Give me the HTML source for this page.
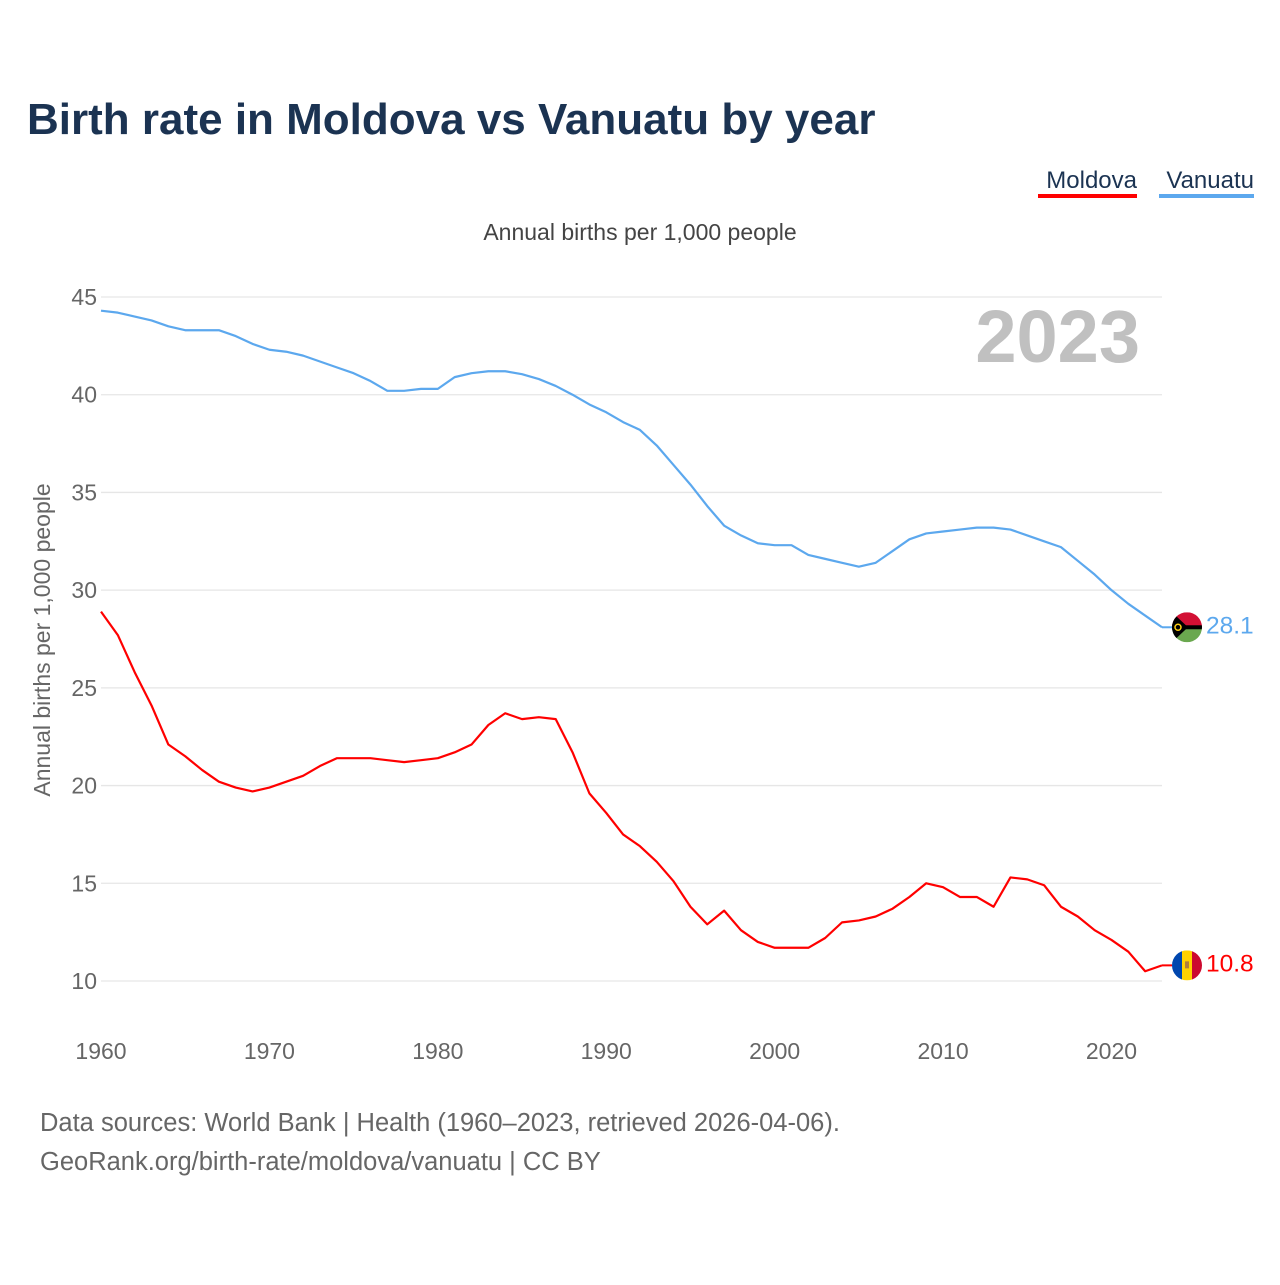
<!DOCTYPE html>
<html><head><meta charset="utf-8"><style>
body{margin:0;background:#fff;font-family:"Liberation Sans",sans-serif}
svg text{font-family:"Liberation Sans",sans-serif}
</style></head><body>
<svg width="1280" height="1280" viewBox="0 0 1280 1280" xmlns="http://www.w3.org/2000/svg" id="chart">
<defs>
<clipPath id="cv"><circle cx="1187" cy="627" r="15"/></clipPath>
<clipPath id="cm"><circle cx="1187" cy="966" r="15"/></clipPath>
</defs>
<text x="27" y="134" font-size="44" font-weight="bold" fill="#1b3352">Birth rate in Moldova vs Vanuatu by year</text>
<g>
<text x="1137" y="188" font-size="24" fill="#1b3352" text-anchor="end">Moldova</text>
<rect x="1038" y="194" width="99" height="4" fill="#ff0000"/>
<text x="1254" y="188" font-size="24" fill="#1b3352" text-anchor="end">Vanuatu</text>
<rect x="1159" y="194" width="95" height="4" fill="#5ca8ee"/>
</g>
<text x="640" y="240" font-size="23" fill="#444" text-anchor="middle">Annual births per 1,000 people</text>
<text x="50" y="640" font-size="23" fill="#666" text-anchor="middle" transform="rotate(-90 50 640)">Annual births per 1,000 people</text>
<text x="1140" y="362" font-size="74" font-weight="bold" fill="#c0c0c0" text-anchor="end">2023</text>
<g id="grid"></g><g id="xt"></g><g id="lines"></g><g id="ends"></g>
<text x="40" y="1131" font-size="25.5" fill="#666">Data sources: World Bank | Health (1960–2023, retrieved 2026-04-06).</text>
<text x="40" y="1170" font-size="25.5" fill="#666">GeoRank.org/birth-rate/moldova/vanuatu | CC BY</text>
</svg>
<script>
const years=[];for(let y=1960;y<=2023;y++)years.push(y);
const yTicks=[10,15,20,25,30,35,40,45];
const xTicks=[1960,1970,1980,1990,2000,2010,2020];
const vanuatu=[44.3,44.2,44.0,43.8,43.5,43.3,43.3,43.3,43.0,42.6,42.3,42.2,42.0,41.7,41.4,41.1,40.7,40.2,40.2,40.3,40.3,40.9,41.1,41.2,41.2,41.05,40.8,40.45,40.0,39.5,39.1,38.6,38.2,37.4,36.4,35.4,34.3,33.3,32.8,32.4,32.3,32.3,31.8,31.6,31.4,31.2,31.4,32.0,32.6,32.9,33.0,33.1,33.2,33.2,33.1,32.8,32.5,32.2,31.5,30.8,30.0,29.3,28.7,28.1];
const moldova=[28.9,27.7,25.8,24.1,22.1,21.5,20.8,20.2,19.9,19.7,19.9,20.2,20.5,21.0,21.4,21.4,21.4,21.3,21.2,21.3,21.4,21.7,22.1,23.1,23.7,23.4,23.5,23.4,21.7,19.6,18.6,17.5,16.9,16.1,15.1,13.8,12.9,13.6,12.6,12.0,11.7,11.7,11.7,12.2,13.0,13.1,13.3,13.7,14.3,15.0,14.8,14.3,14.3,13.8,15.3,15.2,14.9,13.8,13.3,12.6,12.1,11.5,10.5,10.8];
const NS='http://www.w3.org/2000/svg';
const X=y=>101+(y-1960)*(1162-101)/63;
const Y=v=>981-(v-10)*(981-297)/35;
function mk(tag,attrs,parent){const e=document.createElementNS(NS,tag);for(const k in attrs)e.setAttribute(k,attrs[k]);(typeof parent==='string'?document.getElementById(parent):parent).appendChild(e);return e;}
yTicks.forEach(t=>{
 const l=mk('line',{x1:101,x2:1162,y1:Y(t),y2:Y(t),stroke:'#e6e6e6','stroke-width':1.3},'grid');
 
 
 const tx=mk('text',{x:97,y:Y(t)+8,'font-size':23,fill:'#666','text-anchor':'end'},'grid');tx.textContent=t;
 
 
});
xTicks.forEach(t=>{
 const tx=mk('text',{x:X(t),y:1059,'font-size':23,fill:'#666','text-anchor':'middle'},'xt');tx.textContent=t;
 
 
});
function line(vals,color,name){
 const p=mk('polyline',{points:vals.map((v,i)=>X(years[i])+','+Y(v)).join(' '),fill:'none',stroke:color,'stroke-width':2.2,'stroke-linejoin':'round'},'lines');
 
 
}
line(vanuatu,'#5ca8ee','vanuatu-line');
line(moldova,'#ff0000','moldova-line');
function end(vals,color,name,flag){
 const v=vals[vals.length-1],cy=Y(v);
 mk('line',{x1:1162,x2:1172,y1:cy,y2:cy,stroke:color,'stroke-width':2},'ends');
 const g=mk('g',{'clip-path':flag==='md'?'url(#cm)':'url(#cv)',transform:'translate(0,'+(cy-(flag==='md'?966:627))+')'},'ends');
 
 
 const c=flag==='md'?966:627;
 if(flag==='md'){
  mk('rect',{x:1172,y:c-15,width:10,height:30,fill:'#0046ae'},g);
  mk('rect',{x:1182,y:c-15,width:10,height:30,fill:'#ffd200'},g);
  mk('rect',{x:1192,y:c-15,width:10,height:30,fill:'#cc092f'},g);
  mk('rect',{x:1185,y:c-4,width:4,height:7,fill:'#b07e3a'},g);
 }else{
  mk('rect',{x:1172,y:c-15,width:30,height:15,fill:'#d21034'},g);
  mk('rect',{x:1172,y:c,width:30,height:15,fill:'#6aa84f'},g);
  mk('rect',{x:1172,y:c-2,width:30,height:4,fill:'#000'},g);
  mk('polygon',{points:`1172,${c-15} 1188,${c} 1172,${c+15}`,fill:'#000'},g);
  mk('circle',{cx:1178,cy:c,r:3,fill:'none',stroke:'#fdce12','stroke-width':1.5},g);
 }
 const t=mk('text',{x:1206,y:cy+6,'font-size':24.5,fill:color},'ends');t.textContent=v.toFixed(1);
 
 
}
end(vanuatu,'#5ca8ee','vanuatu','vu');
end(moldova,'#ff0000','moldova','md');
</script>
</body></html>
